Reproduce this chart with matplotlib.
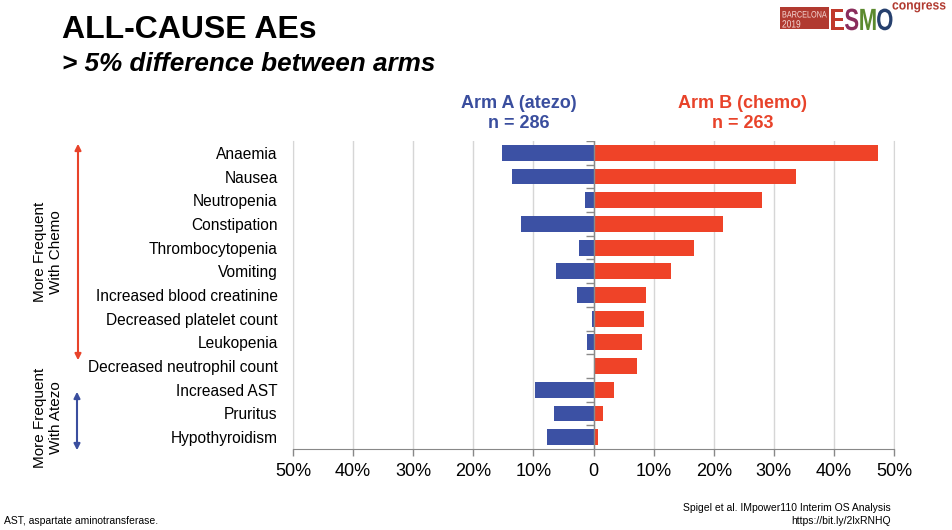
import matplotlib
matplotlib.use('Agg')
import matplotlib.pyplot as plt
import numpy as np
from matplotlib.patches import Rectangle, FancyArrowPatch, PathPatch
from matplotlib.textpath import TextPath
from matplotlib.font_manager import FontProperties
from matplotlib.transforms import Affine2D

categories = ["Anaemia", "Nausea", "Neutropenia", "Constipation", "Thrombocytopenia",
              "Vomiting", "Increased blood creatinine", "Decreased platelet count",
              "Leukopenia", "Decreased neutrophil count", "Increased AST", "Pruritus",
              "Hypothyroidism"]
arm_a = [15.3, 13.5, 1.4, 12.1, 2.4, 6.2, 2.7, 0.2, 1.0, 0.0, 9.8, 6.6, 7.7]
arm_b = [47.4, 33.7, 28.1, 21.6, 16.7, 12.9, 8.7, 8.4, 8.0, 7.2, 3.4, 1.5, 0.8]
xticks = [-50, -40, -30, -20, -10, 0, 10, 20, 30, 40, 50]
xticklabels = ["50%", "40%", "30%", "20%", "10%", "0", "10%", "20%", "30%", "40%", "50%"]

BLUE = '#3C51A4'
RED = '#EF4328'
TBLUE = '#3A4E9E'
TRED = '#E8432A'
plt.rcParams['font.family'] = ['Liberation Sans', 'DejaVu Sans']

W, H = 952, 530
fig = plt.figure(figsize=(9.52, 5.30), dpi=100)


def fx(px):
    return px / W


def fy(py):
    return 1 - py / H


ax = fig.add_axes([fx(293), fy(449), (894 - 293) / W, (449 - 141) / H])
y = np.arange(len(categories))
ax.barh(y, [-v for v in arm_a], height=0.67, color=BLUE, zorder=3)
ax.barh(y, arm_b, height=0.67, color=RED, zorder=3)
ax.set_xlim(-50, 50)
ax.set_ylim(len(categories) - 0.5, -0.5)
ax.set_xticks(xticks)
ax.set_xticklabels(xticklabels, fontsize=13)
ax.set_yticks(y)
ax.set_yticklabels(categories, fontsize=11.2)
ax.tick_params(axis='y', length=0, pad=11)
ax.tick_params(axis='x', length=5, width=1, color='#888888', pad=5)
ax.xaxis.grid(True, color='#d6d6d6', lw=1, zorder=0)
for s in ['left', 'right']:
    ax.spines[s].set_color('#d6d6d6')
ax.spines['top'].set_visible(False)
ax.spines['bottom'].set_color('#888888')
ax.axvline(0, color='#8a8a8a', lw=1, zorder=4)
ax.hlines(y - 0.5, -1.3, 0, color='#8a8a8a', lw=1, zorder=4)

# Title
fig.text(fx(62), fy(38), "ALL-CAUSE AEs", fontsize=23, fontweight='bold',
         ha='left', va='baseline')
fig.text(fx(62), fy(71), "> 5% difference between arms", fontsize=18.8,
         fontweight='bold', fontstyle='italic', ha='left', va='baseline')

# Arm headers
fig.text(fx(519), fy(103), "Arm A (atezo)", fontsize=13, fontweight='bold',
         color=TBLUE, ha='center', va='center')
fig.text(fx(519), fy(124), "n = 286", fontsize=13, fontweight='bold',
         color=TBLUE, ha='center', va='center')
fig.text(fx(743), fy(103), "Arm B (chemo)", fontsize=13, fontweight='bold',
         color=TRED, ha='center', va='center')
fig.text(fx(743), fy(124), "n = 263", fontsize=13, fontweight='bold',
         color=TRED, ha='center', va='center')

# Side annotations
fig.add_artist(FancyArrowPatch((fx(78), fy(141)), (fx(78), fy(363)),
                               transform=fig.transFigure, arrowstyle='<|-|>',
                               mutation_scale=9, color=TRED, lw=1.5))
fig.add_artist(FancyArrowPatch((fx(77), fy(389)), (fx(77), fy(453)),
                               transform=fig.transFigure, arrowstyle='<|-|>',
                               mutation_scale=9, color=TBLUE, lw=1.5))
fig.text(fx(48), fy(252), "More Frequent\nWith Chemo", fontsize=11, rotation=90,
         ha='center', va='center', multialignment='center', linespacing=1.1)
fig.text(fx(48), fy(418), "More Frequent\nWith Atezo", fontsize=11, rotation=90,
         ha='center', va='center', multialignment='center', linespacing=1.1)

# Footnotes
fig.text(fx(4), fy(521), "AST, aspartate aminotransferase.", fontsize=7.5,
         ha='left', va='center')
fig.text(fx(891), fy(508), "Spigel et al. IMpower110 Interim OS Analysis",
         fontsize=7.5, ha='right', va='center')
fig.text(fx(891), fy(521), "https://bit.ly/2lxRNHQ", fontsize=7.5,
         ha='right', va='center')


# Logo (drawn as scaled text paths, in pixel coordinates)
def path_text(s, x_px, baseline_px, size, sx, color, weight='bold'):
    tp = TextPath((0, 0), s, size=size,
                  prop=FontProperties(family='Liberation Sans', weight=weight))
    tr = Affine2D().scale(sx, 1).translate(x_px, H - baseline_px)
    fig.add_artist(PathPatch(tp, transform=tr, facecolor=color, lw=0))
    ext = tp.get_extents()
    return x_px + (ext.x1) * sx


fig.add_artist(Rectangle((fx(780), fy(29)), (829 - 780) / W, 22 / H,
                         transform=fig.transFigure, color='#B13A30', lw=0))
path_text("BARCELONA", 782, 17.5, 9.3, 0.78, '#f6dcd8', weight='normal')
path_text("2019", 782, 27.5, 10.5, 0.8, '#f6dcd8', weight='normal')
xpos = 830
for letter, col in [("E", '#C0392B'), ("S", '#8A2D5C'),
                    ("M", '#5B8A2E'), ("O", '#26406E')]:
    xend = path_text(letter, xpos, 30, 30.7, 0.72, col)
    xpos = xend + 0.5
path_text("congress", 892, 9.5, 13.5, 0.9, '#B13A30')

fig.savefig('out.png', dpi=100)
